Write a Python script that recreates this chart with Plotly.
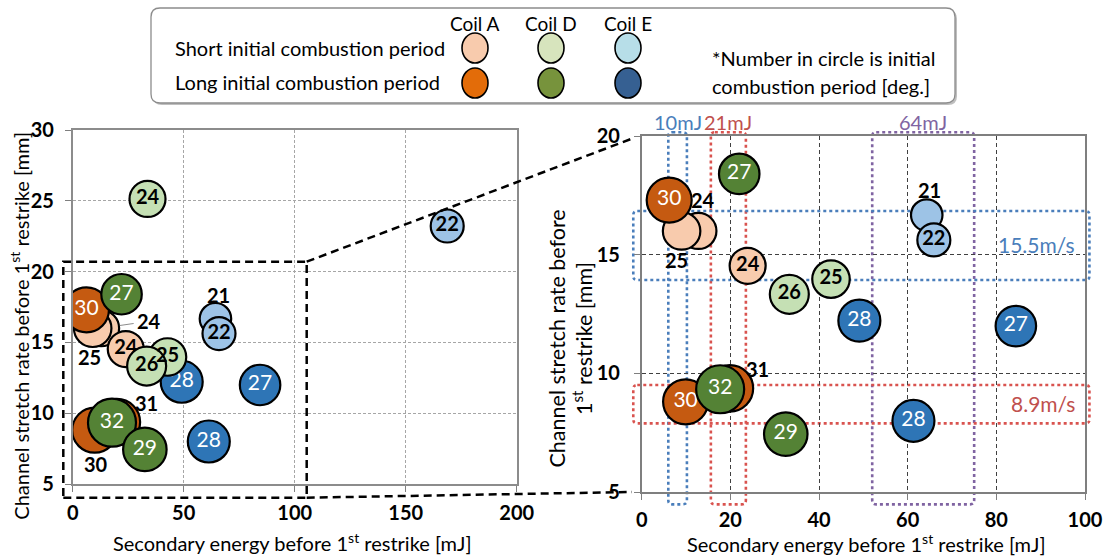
import plotly.graph_objects as go

W, H = 1107, 559
FONT = "Lato"

# ---------------- data ----------------
# Coil A
coilA_short_x = [12.8, 9.0, 23.9]
coilA_short_y = [16.0, 16.0, 14.53]
coilA_short_n = [24, 25, 24]
coilA_long_x = [6.2, 9.9, 19.9]
coilA_long_y = [17.3, 8.8, 9.37]
coilA_long_n = [30, 30, 31]
# Coil D
coilD_short_x = [33.7, 42.7, 33.3]
coilD_short_y = [25.13, 13.97, 13.33]
coilD_short_n = [24, 25, 26]
coilD_long_x = [22.0, 17.7, 32.5]
coilD_long_y = [18.4, 9.33, 7.44]
coilD_long_n = [27, 32, 29]
# Coil E
coilE_short_x = [64.3, 65.9, 168.7]
coilE_short_y = [16.67, 15.62, 23.22]
coilE_short_n = [21, 22, 22]
coilE_long_x = [49.1, 84.4, 61.3]
coilE_long_y = [12.22, 11.99, 8.0]
coilE_long_n = [28, 27, 28]

left_x_ticks = [0, 50, 100, 150, 200]
left_y_ticks = [5, 10, 15, 20, 25, 30]
right_x_ticks = [0, 20, 40, 60, 80, 100]
right_y_ticks = [5, 10, 15, 20]

# highlight bands on the zoomed chart: (label, x-range / y-range)
energy_bands = [("10mJ", (6.0, 10.2)), ("21mJ", (15.6, 23.5)), ("64mJ", (52.0, 75.0))]
speed_bands = [("15.5m/s", (13.93, 16.84)), ("8.9m/s", (7.89, 9.51))]

# ---------------- styling ----------------
series = [
    ("E long", coilE_long_x, coilE_long_y, coilE_long_n, "#2E75B6", "white", False),
    ("E short", coilE_short_x, coilE_short_y, coilE_short_n, "#9DC3E6", "black", True),
    ("A short", coilA_short_x, coilA_short_y, coilA_short_n, "#F8CBAD", "black", True),
    ("A long", coilA_long_x, coilA_long_y, coilA_long_n, "#C55A11", "white", False),
    ("D short", coilD_short_x, coilD_short_y, coilD_short_n, "#C5E0B4", "black", True),
    ("D long", coilD_long_x, coilD_long_y, coilD_long_n, "#548235", "white", False),
]

outside_right = {("A short", 0): (5, -31), ("A short", 1): (-5, 29),
                 ("A long", 2): (28, -19), ("E short", 0): (3, -25)}
outside_left = {("A short", 1): (-3, 29), ("A long", 2): (30, -19),
                ("A long", 1): (1, 34), ("E short", 0): (3, -24)}
leader_left = {("A short", 0): (48, -7)}

LX = (72.7, 516.7); LY = (130.0, 484.0)
RX = (641.7, 1085.0); RY = (136.0, 492.0)


def P(px, py):
    return px / W, 1 - py / H


lxd = [LX[0] / W, LX[1] / W]; lyd = [1 - LY[1] / H, 1 - LY[0] / H]
rxd = [RX[0] / W, RX[1] / W]; ryd = [1 - RY[1] / H, 1 - RY[0] / H]

fig = go.Figure()

LABEL = 20
for xa, ya, outside, leader in [("x", "y", outside_left, leader_left),
                                ("x2", "y2", outside_right, {})]:
    for name, xs, ys, ns, col, tcol, bold in series:
        texts = []
        for i, n in enumerate(ns):
            key = (name, i)
            texts.append(" " if (key in outside or key in leader) else str(n))
        fig.add_trace(go.Scatter(
            x=xs, y=ys, xaxis=xa, yaxis=ya, mode="markers+text",
            text=texts, textposition="middle center",
            textfont=dict(family=FONT, size=21 if not bold else 20, color=tcol,
                          weight="bold" if bold else "normal"),
            marker=dict(size=[1.5 * n for n in ns], color=col,
                        line=dict(color="black", width=2.2), opacity=1),
            cliponaxis=True, showlegend=False, hoverinfo="skip"))
        for i, n in enumerate(ns):
            key = (name, i)
            if key in outside:
                dx, dy = outside[key]
                fig.add_annotation(x=xs[i], y=ys[i], xref=xa, yref=ya, text=f"<b>{n}</b>",
                                   showarrow=False, xshift=dx, yshift=-dy,
                                   xanchor="center", yanchor="middle",
                                   font=dict(family=FONT, size=LABEL, color="black"))
            if key in leader:
                dx, dy = leader[key]
                fig.add_annotation(x=xs[i], y=ys[i], xref=xa, yref=ya, text=f"<b>{n}</b>",
                                   showarrow=True, ax=dx, ay=dy, arrowhead=0, arrowwidth=1,
                                   arrowcolor="#8C8C8C", standoff=19, startstandoff=2,
                                   font=dict(family=FONT, size=LABEL, color="black"))

tickfont = dict(family=FONT, size=20, color="black", weight="bold")
common = dict(showline=True, mirror=True, zeroline=False, ticks="outside",
              ticklen=6, tickcolor="#7F7F7F", tickfont=tickfont, showgrid=True,
              automargin=False)

fig.update_layout(
    width=W, height=H, margin=dict(l=0, r=0, t=0, b=0, pad=0), autosize=False,
    paper_bgcolor="white", plot_bgcolor="rgba(0,0,0,0)",
    xaxis=dict(domain=lxd, range=[0, 200], tickvals=left_x_ticks, anchor="y",
               linecolor="#8C8C8C", linewidth=1.5, gridcolor="#A6A6A6",
               griddash="3px,2px", gridwidth=1, ticklabelstandoff=4, **common),
    yaxis=dict(domain=lyd, range=[5, 30], tickvals=left_y_ticks, anchor="x",
               linecolor="#8C8C8C", linewidth=1.5, gridcolor="#A6A6A6",
               griddash="3px,2px", gridwidth=1, ticklabelstandoff=7, **common),
    xaxis2=dict(domain=rxd, range=[0, 100], tickvals=right_x_ticks, anchor="y2",
                linecolor="#7F7F7F", linewidth=2, gridcolor="#404040",
                griddash="4px,3px", gridwidth=1, ticklabelstandoff=3, **common),
    yaxis2=dict(domain=ryd, range=[5, 20], tickvals=right_y_ticks, anchor="x2",
                linecolor="#7F7F7F", linewidth=1.5, gridcolor="#404040",
                griddash="4px,3px", gridwidth=1, ticklabelstandoff=10, **common),
)


def rounded_path(px0, py0, px1, py1, r, conv):
    def p(x, y):
        a, b = conv(x, y)
        return f"{a:.5f},{b:.5f}"
    return (f"M {p(px0 + r, py0)} L {p(px1 - r, py0)} Q {p(px1, py0)} {p(px1, py0 + r)} "
            f"L {p(px1, py1 - r)} Q {p(px1, py1)} {p(px1 - r, py1)} "
            f"L {p(px0 + r, py1)} Q {p(px0, py1)} {p(px0, py1 - r)} "
            f"L {p(px0, py0 + r)} Q {p(px0, py0)} {p(px0 + r, py0)} Z")


def rpx(x, y):
    return (RX[0] + x / 100 * (RX[1] - RX[0]),
            RY[1] - (y - 5) / 15 * (RY[1] - RY[0]))


def ptext(px, py, text, font, xanchor="center", angle=0):
    x, y = P(px, py)
    fig.add_annotation(x=x, y=y, xref="paper", yref="paper", text=text, showarrow=False,
                       xanchor=xanchor, yanchor="middle", textangle=angle, font=font)


band_cols = {"10mJ": "#4A7EBB", "21mJ": "#D9534F", "64mJ": "#8064A2",
             "15.5m/s": "#4A7EBB", "8.9m/s": "#D9534F"}
text_cols = {"10mJ": "#4A7EBB", "21mJ": "#C0504D", "64mJ": "#8064A2",
             "15.5m/s": "#4A7EBB", "8.9m/s": "#C0504D"}

y_lo, y_hi = 4.48, 20.16
for lab, (x0, x1) in energy_bands:
    a = rpx(x0, y_hi); b = rpx(x1, y_lo)
    fig.add_shape(type="path", path=rounded_path(a[0], a[1], b[0], b[1], 4, P),
                  xref="paper", yref="paper", layer="below",
                  line=dict(color=band_cols[lab], width=2.6, dash="dot"))
    ptext((a[0] + b[0]) / 2, a[1] - 10, lab, dict(family=FONT, size=20, color=text_cols[lab]))

x_lo, x_hi = -1.9, 101.0
for lab, (y0, y1) in speed_bands:
    a = rpx(x_lo, y1); b = rpx(x_hi, y0)
    fig.add_shape(type="path", path=rounded_path(a[0], a[1], b[0], b[1], 4, P),
                  xref="paper", yref="paper", layer="below",
                  line=dict(color=band_cols[lab], width=2.6, dash="dot"))
    fig.add_annotation(x=98.3, y=(y0 + y1) / 2 + 0.05, xref="x2", yref="y2", text=lab,
                       showarrow=False, xanchor="right", yanchor="middle",
                       font=dict(family=FONT, size=21, color=text_cols[lab]))

# zoom rectangle and connectors
zx0, zy0 = 63.3, 261.7
zx1, zy1 = 306.7, 497.7
dash = dict(color="black", width=2.5, dash="8px,5px")
fig.add_shape(type="rect", xref="paper", yref="paper",
              x0=P(zx0, 0)[0], x1=P(zx1, 0)[0], y0=P(0, zy1)[1], y1=P(0, zy0)[1],
              line=dash, layer="above")
for (ax_, ay_), (bx_, by_) in [((zx1, zy0), (631, 139)), ((zx1, zy1), (632, 492))]:
    a = P(ax_, ay_); b = P(bx_, by_)
    fig.add_shape(type="line", xref="paper", yref="paper", x0=a[0], y0=a[1], x1=b[0], y1=b[1],
                  line=dash, layer="above")

# axis titles
title_font = dict(family=FONT, size=20, color="black")
xt = "Secondary energy before 1<sup>st</sup> restrike [mJ]"
ptext(292.5, 542, xt, title_font)
ptext(866, 543, xt, title_font)
ptext(19, 325.7, "Channel stretch rate before 1<sup>st</sup> restrike [mm]", title_font, angle=-90)
ptext(570.5, 339, "Channel stretch rate before<br>1<sup>st</sup> restrike [mm]",
      dict(family=FONT, size=21.5, color="black"), angle=-90)

# ---------------- key box at top ----------------
fig.add_shape(type="path", xref="paper", yref="paper",
              path=rounded_path(153, 10, 957, 105, 9, P), line=dict(width=0),
              fillcolor="#BFBFBF", layer="above")
fig.add_shape(type="path", xref="paper", yref="paper",
              path=rounded_path(151, 8, 955, 103, 9, P), line=dict(color="#8C8C8C", width=1.3),
              fillcolor="white", layer="above")

key_cols = [("Coil A", 475, "#F8CBAD", "#E36C09"),
            ("Coil D", 551, "#D7E4BD", "#77933C"),
            ("Coil E", 628, "#B7DEE8", "#366092")]
for lab, cx, cs, cl in key_cols:
    ptext(cx, 23, lab, dict(family=FONT, size=19, color="black"))
    for cy, c in [(48, cs), (83, cl)]:
        a = P(cx - 13, cy - 15); b = P(cx + 13, cy + 15)
        fig.add_shape(type="circle", xref="paper", yref="paper", x0=a[0], x1=b[0],
                      y0=b[1], y1=a[1], fillcolor=c, line=dict(color="black", width=1.6),
                      layer="above")

key_font = dict(family=FONT, size=20, color="black")
for txt, py in [("Short initial combustion period", 48), ("Long initial combustion period", 82)]:
    ptext(173, py, txt, key_font, xanchor="left")
for txt, py in [("*Number in circle is initial", 58), ("combustion period [deg.]", 86)]:
    ptext(710, py, txt, key_font, xanchor="left")

fig.write_html("out.html", config={"displayModeBar": False},
               post_script="document.body.style.margin='0px';document.body.style.padding='0px';")
